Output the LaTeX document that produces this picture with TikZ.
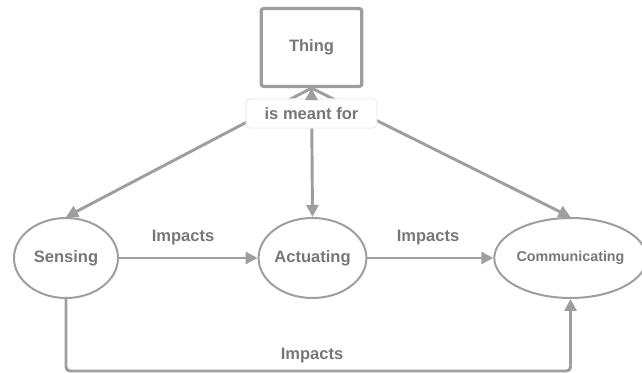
\documentclass[tikz,border=0pt]{standalone}
\usepackage{fontspec}
\setmainfont{Liberation Sans}
\usetikzlibrary{shapes.geometric,arrows.meta}
\definecolor{ln}{HTML}{9E9E9E}
\definecolor{tx}{HTML}{777777}
\definecolor{lb}{HTML}{EDEDED}
\begin{document}
\begin{tikzpicture}[x=0.75pt,y=-0.75pt,
  every node/.style={text=tx,font=\bfseries\fontsize{12.4}{14}\selectfont},
  oval/.style={ellipse,draw=ln,line width=1.5pt,inner sep=0pt},
  conn/.style={draw=ln,line width=2.2pt,-{Triangle[length=9pt,width=9pt]}},
  tag/.style={inner sep=0pt}]
\useasboundingbox (0,0) rectangle (642,373);
\node[draw=ln,line width=2.4pt,rounded corners=2pt,minimum width=101\pgflinewidth,
  minimum width=75.5pt,minimum height=58.5pt] (thing) at (311.5,47.5) {Thing};
\node[oval,minimum width=78pt,minimum height=60pt] (sens) at (66,258) {Sensing};
\node[oval,minimum width=77pt,minimum height=60pt] (act) at (312.5,258) {Actuating};
\node[oval,minimum width=98pt,minimum height=60pt,font=\bfseries\fontsize{10.7}{12}\selectfont] (comm) at (570.5,258) {Communicating};
\coordinate (tb) at (thing.south);
\draw[conn] (tb) -- (sens.north);
\draw[conn] (tb) -- (act.north);
\draw[conn] (tb) -- (comm.north);
\node[fill=white,draw=lb,line width=0.8pt,rounded corners=3pt,minimum width=98pt,minimum height=22pt] (mf) at (311.5,113.5) {is meant for};
\draw[conn] (mf.north) -- (tb);
\draw[conn] (sens.east) -- (act.west);
\draw[conn] (act.east) -- (comm.west);
\coordinate (bl) at (66,371);
\coordinate (br) at (570.5,371);
\draw[conn,rounded corners=3pt] (sens.south) -- (bl) -- (br) -- (comm.south);
\node[tag] (i1) at (183,238) {Impacts};
\node[tag] (i2) at (428,238) {Impacts};
\node[tag] (i3) at (312,356) {Impacts};
\end{tikzpicture}
\end{document}
